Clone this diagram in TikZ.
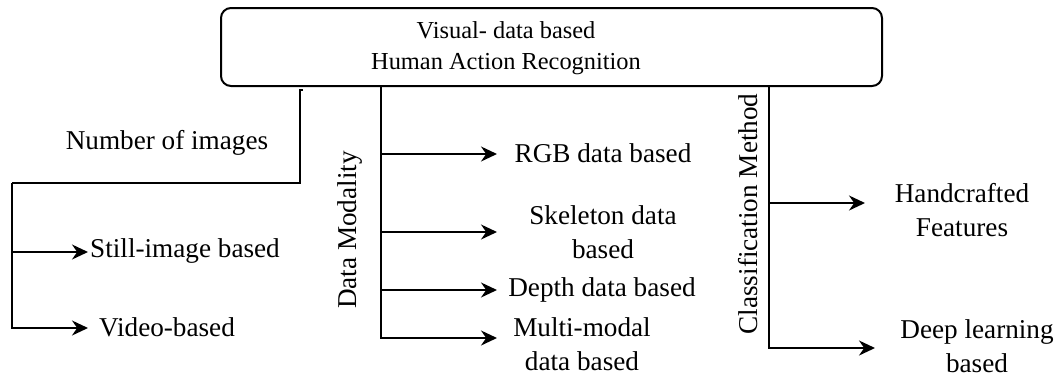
\documentclass[tikz,border=0pt]{standalone}
\usepackage{fontspec}
\setmainfont{Liberation Serif}
\usepackage{tikz}
\usetikzlibrary{positioning,arrows.meta,calc}

\begin{document}
\begin{tikzpicture}[x=0.5pt,y=-0.5pt,
    lbl/.style={font=\fontsize{13.6}{17}\selectfont, align=center, inner sep=0pt},
    ttl/.style={font=\fontsize{12.2}{15.5}\selectfont, align=center, inner sep=0pt},
    rootbox/.style={draw, line width=1pt, rounded corners=5pt, minimum width=330.5pt, minimum height=39pt},
    link/.style={line width=1pt},
    arr/.style={line width=1pt, -{Stealth[length=8pt,width=7.5pt]}}]
    \useasboundingbox (0,0) rectangle (1059,376);
    % root of the tree
    \node[rootbox] (root) at (551.5,47) {};
    \node[ttl] (title) at (506,48) {Visual- data based\\Human Action Recognition};
    % branch: number of images
    \coordinate (nimg) at (300,90);
    \coordinate (nturn) at (12,183);
    \coordinate (tS) at (88,252);
    \coordinate (tV) at (88,328);
    \node[lbl] (nimgs) at (167,143) {Number of images};
    \node[lbl] (still) at (185,251) {Still-image based};
    \node[lbl] (vid) at (167,327) {Video-based};
    \draw[link] ([xshift=1.5pt]nimg) -- (nimg) -- (nimg |- nturn) -- (nturn);
    \draw[arr] (nturn) |- (tV);
    \draw[arr] (nturn |- tS) -- (tS);
    % branch: data modality
    \coordinate (dtop) at (381,86);
    \coordinate (tR) at (497,154);
    \coordinate (tK) at (497,232);
    \coordinate (tD) at (497,290);
    \coordinate (tM) at (497,338);
    \node[lbl, rotate=90] (dmod) at (350,230) {Data Modality};
    \node[lbl] (rgb) at (603,153) {RGB data based};
    \node[lbl] (skel) at (603,232) {Skeleton data\\based};
    \node[lbl] (depth) at (602,290) {Depth data based};
    \node[lbl] (multi) at (582,344) {Multi-modal\\data based};
    \draw[arr] (dtop) |- (tM);
    \draw[arr] (dtop |- tR) -- (tR);
    \draw[arr] (dtop |- tK) -- (tK);
    \draw[arr] (dtop |- tD) -- (tD);
    % branch: classification method
    \coordinate (ctop) at (769,86);
    \coordinate (tH) at (865,203);
    \coordinate (tL) at (875,348);
    \node[lbl, rotate=90] (cmeth) at (748,214) {Classification Method};
    \node[lbl] (hand) at (962,210) {Handcrafted\\Features};
    \node[lbl] (deep) at (977,346) {Deep learning\\based};
    \draw[arr] (ctop) |- (tL);
    \draw[arr] (ctop |- tH) -- (tH);
\end{tikzpicture}
\end{document}
